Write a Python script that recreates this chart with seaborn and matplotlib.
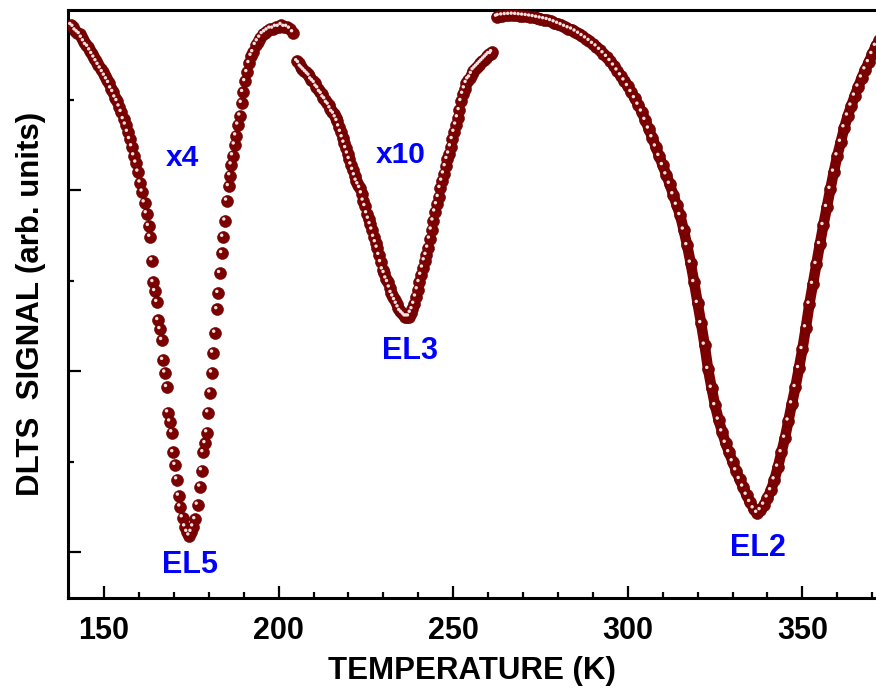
import numpy as np
import pandas as pd
import seaborn as sns
import matplotlib
matplotlib.use("Agg")
import matplotlib.pyplot as plt
from matplotlib.ticker import MultipleLocator, FixedLocator
from matplotlib.transforms import ScaledTranslation

# ---------------- data ----------------
el5_T = [140.6, 141.2, 141.8, 142.4, 143.0, 143.6, 144.2, 144.8, 145.4, 146.0,
         146.6, 147.2, 147.8, 148.4, 149.0, 149.6, 150.2, 150.8, 151.4, 152.0,
         152.6, 153.2, 153.8, 154.4, 155.0, 155.6, 156.2, 156.8, 157.4, 158.0,
         158.6, 159.2, 159.8, 160.4, 161.0, 161.6, 162.2, 162.8, 163.2, 163.8,
         164.1, 164.6, 165.2, 165.5, 166.1, 166.6, 166.9, 167.5, 168.0, 168.3,
         168.9, 169.5, 169.8, 170.4, 170.9, 171.4, 171.8, 172.5, 173.2, 173.8,
         174.4, 175.0, 175.5, 176.1, 176.8, 177.5, 178.0, 178.4, 179.0, 179.5,
         179.8, 180.4, 180.9, 181.2, 181.8, 182.4, 182.7, 183.2, 183.8, 184.1,
         184.7, 185.2, 185.7, 186.1, 186.5, 186.9, 187.4, 187.8, 188.4, 189.0,
         189.4, 189.8, 190.4, 191.0, 191.6, 192.2, 192.7, 193.4, 194.0, 194.7,
         195.4, 196.1, 196.8, 197.6, 198.4, 199.2, 200.0, 200.8, 201.6, 202.4,
         203.2, 204.1]
el5_S = [0.91, 0.90, 0.88, 0.87, 0.86, 0.84, 0.82, 0.80, 0.79, 0.77,
         0.75, 0.73, 0.71, 0.69, 0.67, 0.65, 0.63, 0.61, 0.59, 0.56,
         0.54, 0.51, 0.49, 0.46, 0.43, 0.39, 0.36, 0.32, 0.28, 0.24,
         0.19, 0.15, 0.10, 0.04, -0.01, -0.07, -0.13, -0.20, -0.26, -0.39,
         -0.51, -0.56, -0.62, -0.72, -0.77, -0.83, -0.94, -1.01, -1.09, -1.23,
         -1.28, -1.34, -1.45, -1.52, -1.60, -1.69, -1.75, -1.81, -1.86, -1.89,
         -1.91, -1.89, -1.86, -1.82, -1.74, -1.64, -1.55, -1.45, -1.40, -1.34,
         -1.23, -1.12, -1.01, -0.90, -0.79, -0.66, -0.57, -0.46, -0.35, -0.26,
         -0.17, -0.06, 0.02, 0.08, 0.14, 0.19, 0.25, 0.30, 0.36, 0.41,
         0.48, 0.54, 0.60, 0.65, 0.70, 0.74, 0.76, 0.80, 0.82, 0.84,
         0.86, 0.87, 0.88, 0.89, 0.89, 0.90, 0.90, 0.91, 0.90, 0.90,
         0.89, 0.87]

el3_T = [205.3, 205.8, 206.3, 206.8, 207.3, 207.8, 208.3, 208.8, 209.3, 209.8,
         210.3, 210.8, 211.3, 211.8, 212.3, 212.8, 213.3, 213.8, 214.3, 214.8,
         215.3, 215.8, 216.3, 216.8, 217.3, 217.8, 218.3, 218.8, 219.3, 219.8,
         220.3, 220.8, 221.3, 221.8, 222.3, 222.8, 223.3, 223.8, 224.3, 224.8,
         225.3, 225.8, 226.3, 226.8, 227.3, 227.8, 228.3, 228.8, 229.3, 229.8,
         230.3, 230.8, 231.3, 231.8, 232.3, 232.8, 233.3, 233.8, 234.3, 234.8,
         235.3, 235.8, 236.3, 236.8, 237.3, 237.8, 238.3, 238.8, 239.3, 239.8,
         240.3, 240.8, 241.3, 241.8, 242.3, 242.8, 243.3, 243.8, 244.3, 244.8,
         245.3, 245.8, 246.3, 246.8, 247.3, 247.8, 248.3, 248.8, 249.3, 249.8,
         250.3, 250.8, 251.3, 251.8, 252.3, 252.8, 253.3, 253.8, 254.3, 254.8,
         255.3, 255.8, 256.3, 256.8, 257.3, 257.8, 258.3, 258.8, 259.3, 259.8,
         260.3, 260.8, 261.1]
el3_S = [0.71, 0.70, 0.68, 0.67, 0.66, 0.65, 0.64, 0.63, 0.61, 0.60,
         0.59, 0.57, 0.56, 0.54, 0.53, 0.51, 0.50, 0.48, 0.47, 0.45,
         0.43, 0.42, 0.40, 0.38, 0.35, 0.32, 0.29, 0.26, 0.23, 0.20,
         0.17, 0.14, 0.11, 0.08, 0.05, 0.03, 0.01, -0.02, -0.06, -0.09,
         -0.13, -0.16, -0.19, -0.22, -0.26, -0.29, -0.32, -0.36, -0.40, -0.44,
         -0.46, -0.49, -0.51, -0.54, -0.57, -0.59, -0.61, -0.63, -0.65, -0.67,
         -0.68, -0.69, -0.70, -0.70, -0.70, -0.68, -0.66, -0.63, -0.59, -0.55,
         -0.51, -0.47, -0.43, -0.39, -0.36, -0.32, -0.27, -0.22, -0.17, -0.12,
         -0.08, -0.04, 0.01, 0.05, 0.09, 0.13, 0.17, 0.20, 0.24, 0.28,
         0.32, 0.36, 0.40, 0.44, 0.49, 0.53, 0.56, 0.59, 0.61, 0.62,
         0.64, 0.66, 0.67, 0.68, 0.69, 0.70, 0.71, 0.72, 0.73, 0.74,
         0.75, 0.75, 0.76]

el2_T = [262.5, 263, 264, 265, 266, 267, 268, 269, 270, 271, 272, 273, 274, 275,
         276, 277, 278, 279, 280, 281, 282, 283, 284, 285, 286, 287, 288, 289,
         290, 291, 292, 293, 294, 295, 296, 297, 298, 299, 300, 301, 302, 303,
         304, 305, 306, 307, 308, 309, 310, 311, 312, 313, 314, 315, 316, 317,
         318, 319, 320, 321, 322, 323, 324, 325, 326, 327, 328, 329, 330, 331,
         332, 333, 334, 335, 336, 337, 338, 339, 340, 341, 342, 343, 344, 345,
         346, 347, 348, 349, 350, 351, 352, 353, 354, 355, 356, 357, 358, 359,
         360, 361, 362, 363, 364, 365, 366, 367, 368, 369, 370, 371, 372]
el2_S = [0.956, 0.960, 0.963, 0.965, 0.966, 0.967, 0.966, 0.964, 0.962, 0.960,
         0.957, 0.954, 0.950, 0.946, 0.942, 0.938, 0.932, 0.925, 0.917, 0.909,
         0.900, 0.892, 0.885, 0.874, 0.862, 0.849, 0.836, 0.822, 0.806, 0.792,
         0.773, 0.754, 0.734, 0.711, 0.686, 0.659, 0.632, 0.604, 0.573, 0.540,
         0.506, 0.470, 0.432, 0.386, 0.338, 0.290, 0.239, 0.187, 0.136, 0.085,
         0.033, -0.025, -0.083, -0.140, -0.220, -0.306, -0.403, -0.510, -0.625,
         -0.737, -0.856, -0.990, -1.094, -1.190, -1.270, -1.335, -1.398, -1.450,
         -1.500, -1.550, -1.598, -1.640, -1.685, -1.725, -1.760, -1.785, -1.770,
         -1.740, -1.700, -1.660, -1.600, -1.530, -1.450, -1.370, -1.275, -1.180,
         -1.090, -0.985, -0.880, -0.760, -0.630, -0.520, -0.410, -0.300, -0.195,
         -0.095, 0.005, 0.100, 0.190, 0.265, 0.345, 0.410, 0.465, 0.520, 0.570,
         0.620, 0.665, 0.705, 0.750, 0.795, 0.830]

x_major = [150, 200, 250, 300, 350]
y_major = [0, -1, -2]
y_minor = [0.5, -0.5, -1.5]

peak_labels = ["EL5", "EL3", "EL2"]
peak_pos = [(174.6, -2.07), (237.6, -0.89), (337.4, -1.98)]
gain_labels = ["x4", "x10"]
gain_pos = [(172.6, 0.177), (234.9, 0.193)]

# ---------------- style ----------------
sns.set_style("ticks")
plt.rcParams["font.family"] = ["Liberation Sans", "DejaVu Sans"]
plt.rcParams["font.weight"] = "bold"
plt.rcParams["text.color"] = "black"
plt.rcParams["axes.labelcolor"] = "black"
plt.rcParams["xtick.color"] = "black"
plt.rcParams["ytick.color"] = "black"

DARK = "#7d0000"
EDGE = "#5c0000"
HIL = "#f6e2e2"
BLUE = "#0000ff"

fig = plt.figure(figsize=(8.76, 6.88), dpi=100)
ax = fig.add_axes([68 / 876, 1 - 598 / 688, 1 - 68 / 876, (598 - 10) / 688])

hl_off = ax.transData + ScaledTranslation(-1.0 / 72, 1.3 / 72, fig.dpi_scale_trans)

df2 = pd.DataFrame({"T": el2_T, "S": el2_S})
sns.lineplot(data=df2, x="T", y="S", ax=ax, color=DARK, linewidth=7.6,
             solid_capstyle="round", zorder=2, sort=False)

for T, S in [(el5_T, el5_S), (el3_T, el3_S), (el2_T, el2_S)]:
    df = pd.DataFrame({"T": T, "S": S})
    sns.scatterplot(data=df, x="T", y="S", ax=ax, s=74, color=DARK,
                    edgecolor=EDGE, linewidth=0.4, zorder=3)
    sns.scatterplot(data=df, x="T", y="S", ax=ax, s=6, color=HIL,
                    edgecolor="none", linewidth=0, zorder=4)
    ax.collections[-1].set_offset_transform(hl_off)

for txt, (x, y) in zip(peak_labels, peak_pos):
    ax.text(x, y, txt, color=BLUE, fontsize=22, fontweight="bold",
            ha="center", va="center")
for txt, (x, y) in zip(gain_labels, gain_pos):
    ax.text(x, y, txt, color=BLUE, fontsize=21.5, fontweight="bold",
            ha="center", va="center")

ax.set_xlim(139.69, 371.08)
ax.set_ylim(-2.254, 0.9945)

ax.xaxis.set_major_locator(FixedLocator(x_major))
ax.xaxis.set_minor_locator(MultipleLocator(10))
ax.yaxis.set_major_locator(FixedLocator(y_major))
ax.yaxis.set_minor_locator(FixedLocator(y_minor))
ax.set_yticklabels([])

ax.tick_params(axis="both", which="major", direction="in", length=9,
               width=1.6, color="black", labelcolor="black")
ax.tick_params(axis="both", which="minor", direction="in", length=4.5,
               width=1.6, color="black")
ax.tick_params(axis="x", which="major", labelsize=22, pad=13)

for lab in ax.get_xticklabels():
    lab.set_fontweight("bold")

for side in ["top", "left", "bottom"]:
    ax.spines[side].set_linewidth(2.2)
    ax.spines[side].set_color("black")
ax.spines["right"].set_visible(False)

ax.set_xlabel("TEMPERATURE (K)", fontsize=22.5, fontweight="bold",
              labelpad=7, color="black")
ax.set_ylabel("DLTS  SIGNAL (arb. units)", fontsize=22.5, fontweight="bold",
              labelpad=12, color="black")

fig.savefig("out.png", dpi=100)
